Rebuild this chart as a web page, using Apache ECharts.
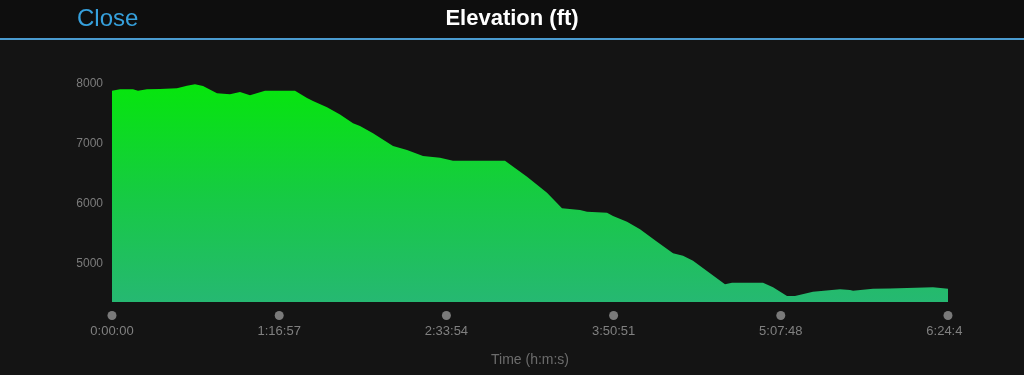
<!DOCTYPE html>
<html>
<head>
<meta charset="utf-8">
<script src="https://cdn.jsdelivr.net/npm/echarts@6/dist/echarts.min.js"></script>
<style>
html,body{margin:0;padding:0;background:#141414;}
#chart{width:1024px;height:375px;}
</style>
</head>
<body>
<div id="chart"></div>
<script>
// Elapsed time (seconds) and elevation (ft)
const timeSec = [0, 221, 580, 718, 966, 1325, 1795, 2071, 2292, 2513, 2899, 3258, 3535, 3811, 4225, 5053, 5385, 5550, 5937, 6296, 6655, 6848, 7207, 7760, 8146, 8588, 9057, 9416, 10852, 11460, 12012, 12426, 12923, 13117, 13669, 13835, 14221, 14580, 15050, 15492, 15768, 16044, 16513, 16927, 17121, 17977, 18253, 18639, 18860, 19357, 20103, 20379, 20462, 21014, 21484, 22671, 23085];
const elevationFt = [7888, 7911, 7911, 7888, 7911, 7917, 7928, 7972, 7995, 7967, 7845, 7828, 7867, 7811, 7888, 7888, 7767, 7717, 7611, 7490, 7344, 7300, 7178, 6967, 6900, 6800, 6772, 6722, 6722, 6456, 6189, 5928, 5900, 5872, 5856, 5800, 5706, 5578, 5372, 5178, 5139, 5056, 4845, 4661, 4689, 4689, 4611, 4467, 4467, 4539, 4578, 4567, 4556, 4589, 4594, 4611, 4589];
const xTickLabels = ['0:00:00', '1:16:57', '2:33:54', '3:50:51', '5:07:48', '6:24:45'];
const xTickStep = 4617;
const yTickValues = [5000, 6000, 7000, 8000];

const FONT = "'Liberation Sans', Arial, sans-serif";
const BG = '#141414';
const chart = echarts.init(document.getElementById('chart'), null, {renderer: 'canvas'});
const seriesData = timeSec.map((t, i) => [t, elevationFt[i]]);

chart.setOption({
  backgroundColor: BG,
  animation: false,
  graphic: [
    {type: 'rect', left: 0, top: 0, shape: {width: 1024, height: 38}, style: {fill: '#0e0e0e'}, z: 0},
    {type: 'rect', left: 0, top: 38, shape: {width: 1024, height: 2}, style: {fill: '#4a9bd0'}, z: 1},
    {type: 'text', x: 77, y: 19, style: {text: 'Close', fill: '#36a0dc', font: '24px ' + FONT, textVerticalAlign: 'middle', textAlign: 'left'}, z: 2},
    {type: 'text', x: 512, y: 19, style: {text: 'Elevation (ft)', fill: '#ffffff', font: 'bold 22px ' + FONT, textVerticalAlign: 'middle', textAlign: 'center'}, z: 2},
    // the original view ends at x = 963, cutting off the right edge of the last time label
    {type: 'rect', left: 963, top: 305, shape: {width: 61, height: 40}, style: {fill: BG}, z: 100, zlevel: 0}
  ],
  grid: {left: 112, right: 76, top: 84, bottom: 73},
  xAxis: {
    type: 'value',
    min: 0,
    max: xTickStep * (xTickLabels.length - 1),
    interval: xTickStep,
    axisLine: {show: false},
    axisTick: {show: false},
    splitLine: {show: false},
    name: 'Time (h:m:s)',
    nameLocation: 'middle',
    nameGap: 51,
    nameTextStyle: {color: '#6c6c6c', fontSize: 14, fontFamily: FONT},
    axisLabel: {
      show: true,
      showMinLabel: true,
      showMaxLabel: true,
      margin: 9,
      fontFamily: FONT,
      formatter: function (v) {
        const idx = Math.round(v / xTickStep);
        return '{dot|}\n{t|' + xTickLabels[idx] + '}';
      },
      rich: {
        dot: {width: 9, height: 9, borderRadius: 4.5, backgroundColor: '#7a7a7a', align: 'center'},
        t: {fontSize: 13, lineHeight: 22, color: '#808080', fontFamily: FONT, align: 'center'}
      }
    }
  },
  yAxis: {
    type: 'value',
    min: 4367,
    max: 8000,
    axisLine: {show: false},
    axisTick: {show: false},
    splitLine: {show: false},
    axisLabel: {
      customValues: yTickValues,
      formatter: function (v) { return String(v); },
      color: '#7c7c7c',
      fontSize: 12,
      fontFamily: FONT,
      margin: 9,
      padding: [2, 0, 0, 0]
    }
  },
  series: [{
    type: 'line',
    data: seriesData,
    showSymbol: false,
    symbol: 'none',
    lineStyle: {width: 0},
    areaStyle: {
      opacity: 1,
      color: new echarts.graphic.LinearGradient(0, 0, 0, 1, [
        {offset: 0, color: '#06e60c'},
        {offset: 0.5, color: '#16cb42'},
        {offset: 1, color: '#26b872'}
      ])
    }
  }]
});
</script>
</body>
</html>
